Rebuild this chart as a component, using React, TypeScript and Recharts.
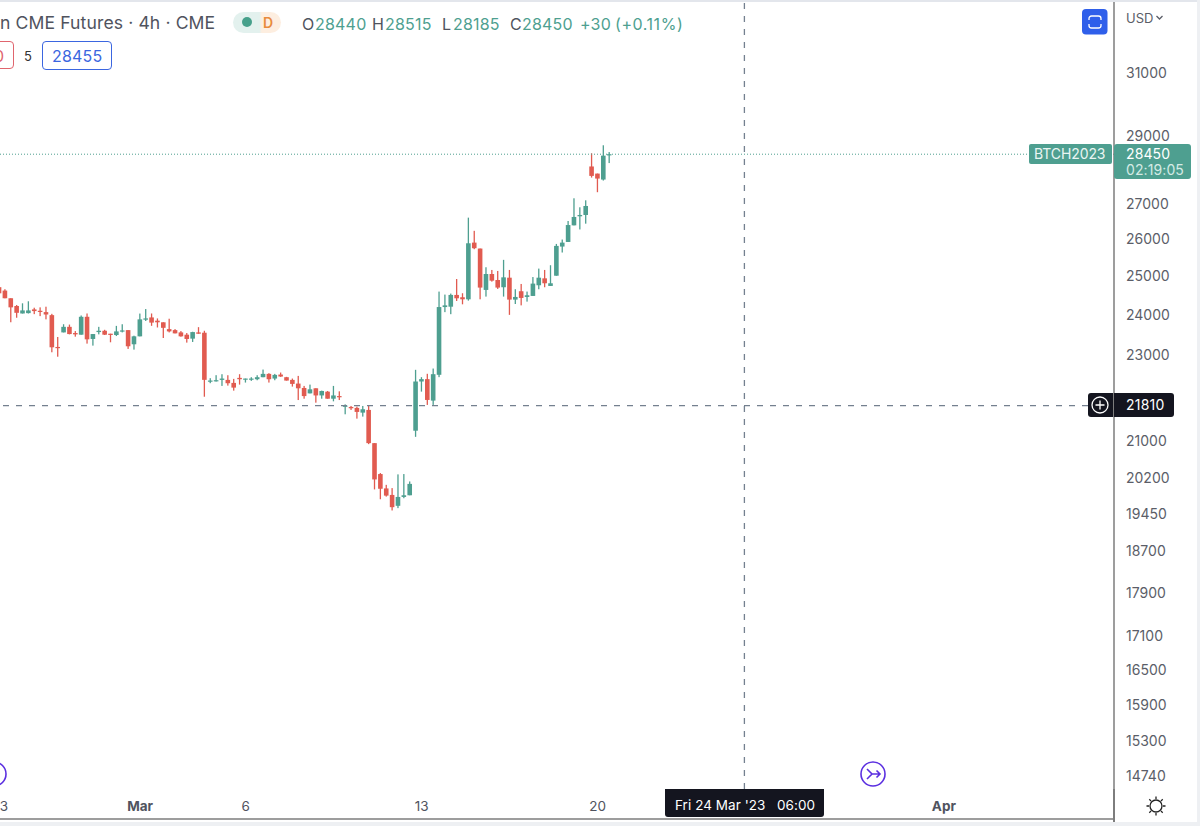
import React from "react";
import { ComposedChart, Bar, XAxis, YAxis, ReferenceLine } from "recharts";

const opens = [24720,24631,24432,24233,24042,24051,24146,24111,24077,24000,23206,23566,23705,23550,23509,23958,23403,23574,23607,23533,23501,23591,23623,23272,23468,23885,23942,23860,23819,23648,23623,23566,23509,23411,23566,23558,22373,22389,22412,22412,22341,22460,22428,22420,22428,22476,22555,22444,22539,22476,22412,22325,22222,22095,22214,22047,22135,21971,22032,21796,21780,21758,21650,21712,20963,20289,19983,19846,19619,19804,19839,21240,22374,22430,21927,22533,24206,24215,24518,24458,24405,25912,25750,24648,25066,24908,24718,24969,24397,24614,24466,24492,24770,24952,24752,25021,25804,25930,26389,26643,26680,28084,27873,27698,28440];
const highs = [24760,24666,24432,24259,24302,24354,24189,24198,24215,24033,23452,23770,23762,23599,23991,24042,23525,23705,23631,23533,23729,23770,23623,23484,24040,24155,24042,23917,23819,23909,23648,23599,23550,23582,23697,23607,22453,22524,22547,22523,22436,22547,22444,22476,22523,22658,22571,22555,22587,22484,22444,22507,22270,22301,22214,22159,22151,22270,22143,21840,21803,21788,21803,21803,20963,20310,20059,19990,20282,20289,20131,22652,22477,22557,22683,24605,24527,24553,24934,24562,26605,26237,25750,25246,25174,25147,25444,25174,24666,24804,24605,24986,25210,25174,25300,25876,25996,26511,27155,26898,27097,28478,27873,28720,28515];
const lows = [24560,24432,23820,23934,24042,24042,24025,23975,23893,23076,22968,23566,23517,23460,23509,23288,23239,23517,23501,23321,23476,23566,23158,23141,23468,23852,23730,23689,23427,23566,23542,23460,23313,23329,23533,22017,22334,22373,22270,22277,22159,22301,22349,22389,22404,22476,22349,22404,22484,22396,22254,21940,21971,22095,21879,21971,21971,21910,21940,21612,21712,21513,21559,20941,19962,19756,19811,19523,19571,19777,19839,21103,22136,21827,21827,22477,24076,24024,24362,24276,24371,25732,24405,24475,24865,24674,24475,24007,24284,24249,24345,24492,24666,24718,24752,25021,25642,25930,26389,26275,26436,27756,27330,27669,28185];
const closes = [24560,24432,24198,24059,24120,24120,24103,24085,24016,23198,23182,23705,23525,23517,23958,23394,23525,23607,23509,23517,23591,23615,23223,23468,23893,23917,23811,23819,23680,23591,23542,23468,23403,23574,23533,22413,22397,22405,22444,22333,22230,22428,22444,22444,22476,22555,22428,22531,22492,22396,22317,22214,22032,22190,22047,22151,21971,22047,22016,21811,21750,21666,21727,20963,20174,19976,19832,19591,19804,19839,20079,22374,22430,21942,22548,24206,24249,24518,24431,24405,25894,25759,24709,25066,24891,24709,24978,24397,24466,24440,24509,24813,24969,24822,24822,25822,25912,26398,26624,26680,26935,27805,27727,28407,28450];

const lastClose = 28450;
const crossPrice = 21810;
const crossIndex = 126;
const yTicks = [31000,29000,27000,26000,25000,24000,23000,21000,20200,19450,18700,17900,17100,16500,15900,15300,14740];
const xTickIndex = [-0.2,23,41,71,101,160];
const xTickLabels = ["3","Mar","6","13","20","Apr"];
const boldTicks = ["Mar","Apr"];
const yDomain = [14544,33416];
const xDomain = [-6,189];

const UP = "#4e9f90";
const DOWN = "#e15b50";
const FONT = "Inter, 'Noto Sans', sans-serif";

const candles = opens.map((o, k) => ({
  x: k - 1, open: o, high: highs[k], low: lows[k], close: closes[k],
  wick: [lows[k], highs[k]],
  body: [Math.min(o, closes[k]), Math.max(o, closes[k])],
}));

const colorOf = (d: any) => (d.close >= d.open ? UP : DOWN);

const Wick = (p: any) => (
  <rect x={p.x + p.width / 2 - 0.65} y={p.y} width={1.3} height={Math.max(p.height, 1)} fill={colorOf(p.payload)} />
);
const Body = (p: any) => (
  <rect x={p.x + p.width / 2 - 2.3} y={p.y} width={4.6} height={Math.max(p.height, 1.2)} fill={colorOf(p.payload)} />
);

const XTick = (p: any) => {
  const label = xTickLabels[xTickIndex.indexOf(p.payload.value)];
  const bold = boldTicks.includes(label);
  return (
    <text x={p.x} y={811} textAnchor="middle" fontFamily={FONT} fontSize={13.5} fontWeight={bold ? 700 : 400} fill="#50535e">
      {label}
    </text>
  );
};

const T = ({ x, y, c, s = 16, w = 400, ls = 0.2, children }: any) => (
  <div style={{ position: "absolute", left: x, top: y, color: c, fontSize: s, fontWeight: w, letterSpacing: ls, fontFamily: FONT, lineHeight: "20px", whiteSpace: "pre" }}>
    {children}
  </div>
);
const Box = ({ x, y, w, h, ...st }: any) => (
  <div style={{ position: "absolute", left: x, top: y, width: w, height: h, boxSizing: "border-box", ...st }} />
);

export default function App() {
  return (
    <div style={{ position: "absolute", left: 0, top: 0, width: 1200, height: 826, overflow: "hidden", background: "#fff" }}>
      <div style={{ position: "absolute", left: -30, top: 0 }}>
        <ComposedChart width={1230} height={826} data={candles} margin={{ top: 2, right: 0, bottom: 0, left: 0 }}>
          <XAxis xAxisId="main" type="number" dataKey="x" domain={xDomain} allowDataOverflow ticks={xTickIndex} interval={0}
            height={37} tickLine={false} axisLine={{ stroke: "#7d7d7d", strokeWidth: 1.5 }} tick={<XTick />} />
          <XAxis xAxisId="body" hide type="number" dataKey="x" domain={xDomain} allowDataOverflow ticks={xTickIndex} interval={0} />
          <YAxis yAxisId="p" orientation="right" width={86} scale="log" domain={yDomain} allowDataOverflow ticks={yTicks} interval={0}
            tickLine={false} tickMargin={6} axisLine={{ stroke: "#7d7d7d", strokeWidth: 1.5 }}
            tick={{ fontFamily: FONT, fontSize: 14, fill: "#5b5e68", textAnchor: "start" }} tickFormatter={(v: number) => String(v)} />
          <ReferenceLine xAxisId="main" yAxisId="p" y={lastClose} stroke={UP} strokeDasharray="1 2" strokeWidth={1} />
          <ReferenceLine xAxisId="main" yAxisId="p" y={crossPrice} stroke="#74808f" strokeDasharray="6 7" strokeWidth={1.3} />
          <ReferenceLine xAxisId="main" yAxisId="p" x={crossIndex} stroke="#74808f" strokeDasharray="6 7" strokeWidth={1.3} />
          <Bar xAxisId="main" yAxisId="p" dataKey="wick" barSize={6} shape={<Wick />} isAnimationActive={false} />
          <Bar xAxisId="body" yAxisId="p" dataKey="body" barSize={6} shape={<Body />} isAnimationActive={false} />
        </ComposedChart>
      </div>

      {/* frame */}
      <Box x={0} y={0} w={1200} h={2} background="#e3e6ec" />
      <Box x={0} y={822} w={1200} h={4} background="#eef0f3" />
      <Box x={1197} y={0} w={3} h={826} background="#eef0f3" />
      <Box x={1113} y={789} w={1.5} h={33} background="#7d7d7d" />

      {/* header */}
      <T x={0} y={13} c="#50535e" s={17.6} ls={0.1}>n CME Futures · 4h · CME</T>
      <Box x={233} y={12} w={48} h={21} background="linear-gradient(90deg,#e3f1ee 0 55%,#fdeee0 60%)" borderRadius={11} />
      <Box x={242} y={17} w={10} h={10} background="#46a08b" borderRadius={5} />
      <T x={263} y={13} c="#e88a3c" s={14} w={600} ls={0}>D</T>
      <T x={302} y={14} c="#50535e">O</T>
      <T x={315} y={14} c={UP}>28440</T>
      <T x={372} y={14} c="#50535e">H</T>
      <T x={385} y={14} c={UP}>28515</T>
      <T x={442} y={14} c="#50535e">L</T>
      <T x={453} y={14} c={UP}>28185</T>
      <T x={510} y={14} c="#50535e">C</T>
      <T x={522} y={14} c={UP}>28450</T>
      <T x={580} y={14} c={UP}>+30</T>
      <T x={615} y={14} c={UP} ls={0.55}>(+0.11%)</T>

      {/* order row */}
      <Box x={-8} y={41} w={22} h={28} border="1.3px solid #e0656e" borderRadius={4} />
      <T x={-6} y={46} c="#e0656e">0</T>
      <T x={24} y={46} c="#333" s={13}>5</T>
      <Box x={42} y={41} w={70} h={29} border="1.5px solid #3b66e0" borderRadius={4} />
      <T x={52} y={46} c="#3b66e0">28455</T>

      {/* top right */}
      <svg style={{ position: "absolute", left: 1082, top: 9 }} width={26} height={26}>
        <rect width={25.5} height={25.5} rx={4} fill="#2f5fea" />
        <path d="M7 11V9.5A2.5 2.5 0 0 1 9.5 7h7A2.5 2.5 0 0 1 19 9.500V11M7 15v1.500A2.500 2.500 0 0 0 9.500 19h7a2.500 2.500 0 0 0 2.500-2.500V15" fill="none" stroke="#fff" strokeWidth={1.3} />
      </svg>
      <T x={1126} y={8} c="#5b5e68" s={13} ls={0}>USD</T>
      <svg style={{ position: "absolute", left: 1155, top: 14 }} width={10} height={8}>
        <path d="M1.500 2l3 3 3-3" fill="none" stroke="#5b5e68" strokeWidth={1.3} />
      </svg>

      {/* price tags */}
      <Box x={1029} y={144} w={83} h={20} background={UP} borderRadius={2} />
      <T x={1034} y={144} c="#eaf5f2" s={14} ls={-0.1}>BTCH2023</T>
      <Box x={1114} y={144} w={77} h={35} background={UP} borderRadius={3} />
      <T x={1126} y={144} c="#fff" s={14} ls={0.1}>28450</T>
      <T x={1126} y={160} c="#d5ebe5" s={14} ls={0.1}>02:19:05</T>

      {/* crosshair tags */}
      <Box x={1088} y={393} w={86} h={24} background="#14151f" borderRadius={3} />
      <Box x={1113} y={393} w={1.2} h={24} background="#7d7d7d" />
      <svg style={{ position: "absolute", left: 1090, top: 395 }} width={20} height={20}>
        <circle cx={10} cy={10} r={8} fill="none" stroke="#fff" strokeWidth={1.3} />
        <path d="M10 5.500v9M5.500 10h9" stroke="#fff" strokeWidth={1.3} />
      </svg>
      <T x={1126} y={395} c="#fff" s={14} ls={0.2}>21810</T>
      <Box x={665} y={789} w={159} h={28} background="#14151f" borderRadius="0 0 3px 3px" />
      <T x={675} y={795} c="#fff" s={13.5} ls={0.05}>Fri 24 Mar '23   06:00</T>

      {/* tool icons */}
      <svg style={{ position: "absolute", left: 0, top: 760 }} width={10} height={28}>
        <circle cx={-6} cy={14} r={12} fill="none" stroke="#5b2fe0" strokeWidth={1.6} />
      </svg>
      <svg style={{ position: "absolute", left: 859, top: 760 }} width={28} height={28}>
        <circle cx={14} cy={14} r={12} fill="none" stroke="#5b2fe0" strokeWidth={1.6} />
        <path d="M8 9l5 5-5 5M13 14h8M17.500 10.500L21 14l-3.500 3.500" fill="none" stroke="#5b2fe0" strokeWidth={1.6} />
      </svg>
      <svg style={{ position: "absolute", left: 1145, top: 795 }} width={22} height={22}>
        <circle cx={11} cy={11} r={6} fill="none" stroke="#222" strokeWidth={1.3} />
        <path d="M11 1.500v2.500M11 18v2.500M1.500 11H4M18 11h2.500M4.300 4.300l1.800 1.800M15.900 15.900l1.800 1.800M4.300 17.700l1.800-1.800M15.900 6.100l1.800-1.800" stroke="#222" strokeWidth={1.3} />
      </svg>
    </div>
  );
}
